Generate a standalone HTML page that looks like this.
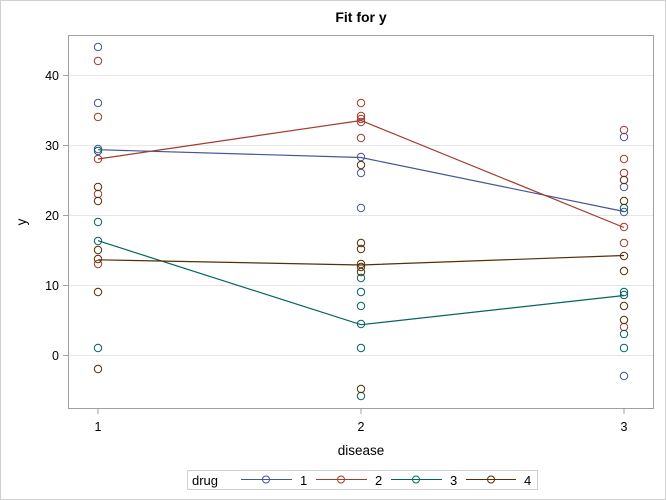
<!DOCTYPE html>
<html><head><meta charset="utf-8"><style>body{margin:0;background:#fff}svg{display:block;font-family:"Liberation Sans","DejaVu Sans",sans-serif}</style></head><body>
<svg width="666" height="500" viewBox="0 0 666 500" xmlns="http://www.w3.org/2000/svg">
<rect x="0.5" y="0.5" width="665" height="499" fill="#fff" stroke="#d0d0d0"/>
<text x="361" y="22" text-anchor="middle" font-size="14" font-weight="bold" fill="#000">Fit for y</text>
<g stroke="#e6e6e6" stroke-width="1">
<line x1="69" x2="654" y1="355.5" y2="355.5"/><line x1="69" x2="654" y1="285.5" y2="285.5"/><line x1="69" x2="654" y1="215.5" y2="215.5"/><line x1="69" x2="654" y1="145.5" y2="145.5"/><line x1="69" x2="654" y1="75.5" y2="75.5"/>
</g>
<rect x="68.5" y="35.5" width="585" height="373" fill="none" stroke="#a0a0a0"/>
<g stroke="#a0a0a0"><line x1="63" x2="68" y1="355.5" y2="355.5"/><line x1="63" x2="68" y1="285.5" y2="285.5"/><line x1="63" x2="68" y1="215.5" y2="215.5"/><line x1="63" x2="68" y1="145.5" y2="145.5"/><line x1="63" x2="68" y1="75.5" y2="75.5"/>
<line x1="98" x2="98" y1="409" y2="414"/><line x1="361" x2="361" y1="409" y2="414"/><line x1="624" x2="624" y1="409" y2="414"/></g>
<g font-size="12.5" fill="#000" text-anchor="end"><text x="59" y="360">0</text><text x="59" y="290">10</text><text x="59" y="220">20</text><text x="59" y="150">30</text><text x="59" y="80">40</text></g>
<g font-size="12.5" fill="#000" text-anchor="middle"><text x="98" y="431">1</text><text x="361" y="431">2</text><text x="624" y="431">3</text></g>
<text x="361" y="455" text-anchor="middle" font-size="13.5">disease</text>
<text x="26" y="222" text-anchor="middle" font-size="13.5" transform="rotate(-90 26 222)">y</text>
<g fill="none" stroke-width="1.2">
<polyline stroke="#445694" points="98,149.7 361,157.5 624,211.5"/>
<polyline stroke="#A23A2E" points="98,159 361,120.5 624,227.5"/>
<polyline stroke="#01665E" points="98,240.7 361,324.7 624,295.5"/>
<polyline stroke="#543005" points="98,259.8 361,265 624,255.5"/>
</g>
<g fill="none" stroke="#445694" stroke-width="1">
<circle cx="98" cy="47" r="3.7"/><circle cx="98" cy="103" r="3.7"/><circle cx="98" cy="149" r="3.7"/>
<circle cx="361" cy="157" r="3.7"/><circle cx="361" cy="173" r="3.7"/><circle cx="361" cy="208" r="3.7"/>
<circle cx="624" cy="137" r="3.7"/><circle cx="624" cy="187" r="3.7"/><circle cx="624" cy="212" r="3.7"/><circle cx="624" cy="376" r="3.7"/>
</g>
<g fill="none" stroke="#A23A2E" stroke-width="1">
<circle cx="98" cy="61" r="3.7"/><circle cx="98" cy="117" r="3.7"/><circle cx="98" cy="159" r="3.7"/><circle cx="98" cy="194" r="3.7"/><circle cx="98" cy="264" r="3.7"/>
<circle cx="361" cy="103" r="3.7"/><circle cx="361" cy="116" r="3.7"/><circle cx="361" cy="119" r="3.7"/><circle cx="361" cy="122" r="3.7"/><circle cx="361" cy="138" r="3.7"/>
<circle cx="624" cy="130" r="3.7"/><circle cx="624" cy="159" r="3.7"/><circle cx="624" cy="173" r="3.7"/><circle cx="624" cy="227" r="3.7"/><circle cx="624" cy="243" r="3.7"/><circle cx="624" cy="327" r="3.7"/>
</g>
<g fill="none" stroke="#01665E" stroke-width="1">
<circle cx="98" cy="151" r="3.7"/><circle cx="98" cy="222" r="3.7"/><circle cx="98" cy="241" r="3.7"/><circle cx="98" cy="348" r="3.7"/>
<circle cx="361" cy="278" r="3.7"/><circle cx="361" cy="292" r="3.7"/><circle cx="361" cy="306" r="3.7"/><circle cx="361" cy="324" r="3.7"/><circle cx="361" cy="348" r="3.7"/><circle cx="361" cy="396" r="3.7"/>
<circle cx="624" cy="208" r="3.7"/><circle cx="624" cy="292" r="3.7"/><circle cx="624" cy="295" r="3.7"/><circle cx="624" cy="334" r="3.7"/><circle cx="624" cy="348" r="3.7"/>
</g>
<g fill="none" stroke="#543005" stroke-width="1">
<circle cx="98" cy="187" r="3.7"/><circle cx="98" cy="201" r="3.7"/><circle cx="98" cy="250" r="3.7"/><circle cx="98" cy="259" r="3.7"/><circle cx="98" cy="292" r="3.7"/><circle cx="98" cy="369" r="3.7"/>
<circle cx="361" cy="165" r="3.7"/><circle cx="361" cy="243" r="3.7"/><circle cx="361" cy="249" r="3.7"/><circle cx="361" cy="264" r="3.7"/><circle cx="361" cy="267" r="3.7"/><circle cx="361" cy="272" r="3.7"/><circle cx="361" cy="389" r="3.7"/>
<circle cx="624" cy="180" r="3.7"/><circle cx="624" cy="201" r="3.7"/><circle cx="624" cy="256" r="3.7"/><circle cx="624" cy="271" r="3.7"/><circle cx="624" cy="306" r="3.7"/><circle cx="624" cy="320" r="3.7"/>
</g>
<rect x="187.5" y="470.5" width="350" height="19" fill="#fff" stroke="#d0d0d0"/>
<g font-size="13" fill="#000"><text x="192" y="485">drug</text><text x="300" y="485">1</text><text x="375" y="485">2</text><text x="450" y="485">3</text><text x="524" y="485">4</text></g>
<g fill="none" stroke-width="1">
<line x1="241" x2="292" y1="479.5" y2="479.5" stroke="#445694"/><circle cx="266" cy="479.5" r="3.5" stroke="#445694"/>
<line x1="316" x2="367" y1="479.5" y2="479.5" stroke="#A23A2E"/><circle cx="341" cy="479.5" r="3.5" stroke="#A23A2E"/>
<line x1="391" x2="442" y1="479.5" y2="479.5" stroke="#01665E"/><circle cx="416" cy="479.5" r="3.5" stroke="#01665E"/>
<line x1="466" x2="516" y1="479.5" y2="479.5" stroke="#543005"/><circle cx="491" cy="479.5" r="3.5" stroke="#543005"/>
</g>
</svg>
</body></html>
